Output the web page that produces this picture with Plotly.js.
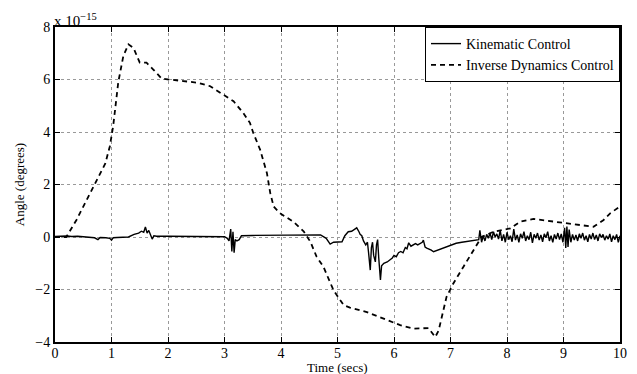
<!DOCTYPE html>
<html>
<head>
<meta charset="utf-8">
<script src="https://cdn.plot.ly/plotly-3.0.1.min.js"></script>
<style>html,body{margin:0;padding:0;background:#fff;}#chart{width:637px;height:374px;}</style>
</head>
<body>
<div id="chart"></div>
<script>
// Inverse Dynamics Control (dashed), angle in units of 1e-15 degrees
const idTime = [0, 0.2, 0.38, 0.71, 0.89, 0.97, 1.03, 1.12, 1.21, 1.30, 1.39, 1.50, 1.62, 1.74, 1.89, 2.27, 2.51, 2.74, 2.98, 3.16, 3.33, 3.45, 3.51, 3.63, 3.75, 3.81, 3.87, 3.98, 4.22, 4.40, 4.52, 4.63, 4.75, 4.93, 5.11, 5.22, 5.52, 5.81, 6.11, 6.35, 6.61, 6.73, 6.79, 6.93, 7.05, 7.23, 7.41, 7.55, 7.76, 7.94, 8.06, 8.23, 8.47, 8.71, 9.06, 9.36, 9.53, 9.71, 9.83, 10.0];
const idAngle = [0, 0, 0.65, 2.05, 2.8, 3.45, 4.23, 5.9, 6.9, 7.34, 7.2, 6.64, 6.64, 6.38, 6.03, 5.94, 5.88, 5.75, 5.43, 5.17, 4.73, 4.35, 3.96, 3.33, 2.44, 1.67, 1.16, 0.91, 0.58, 0.22, -0.18, -0.75, -1.13, -2.03, -2.6, -2.69, -2.86, -3.11, -3.36, -3.49, -3.47, -3.81, -3.56, -2.28, -1.77, -1.13, -0.5, 0.0, 0.2, 0.29, 0.33, 0.58, 0.69, 0.62, 0.52, 0.46, 0.39, 0.65, 0.91, 1.16];

// Kinematic Control (solid)
const kinTime = [0, 0.1, 0.2, 0.3, 0.4, 0.5, 0.6, 0.7, 0.76, 0.8, 0.9, 0.97, 1.0, 1.03, 1.1, 1.2, 1.3, 1.4, 1.48, 1.53, 1.57, 1.6, 1.63, 1.66, 1.69, 1.72, 1.75, 1.8, 2.0, 2.3, 2.6, 2.9, 3.0, 3.05, 3.08, 3.11, 3.13, 3.15, 3.17, 3.19, 3.22, 3.26, 3.3, 3.5, 3.8, 4.1, 4.4, 4.6, 4.7, 4.8, 4.87, 4.93, 5.0, 5.08, 5.13, 5.19, 5.25, 5.3, 5.34, 5.38, 5.4, 5.43, 5.46, 5.5, 5.53, 5.55, 5.58, 5.6, 5.62, 5.64, 5.67, 5.69, 5.71, 5.73, 5.76, 5.78, 5.82, 5.88, 5.93, 5.97, 6.0, 6.04, 6.08, 6.12, 6.16, 6.2, 6.23, 6.26, 6.3, 6.34, 6.38, 6.42, 6.46, 6.5, 6.52, 6.55, 6.58, 6.62, 6.66, 6.7, 6.8, 6.9, 7.0, 7.1, 7.2, 7.3, 7.4, 7.5, 7.52, 7.55, 7.58, 7.61, 7.64, 7.67, 7.7, 7.73, 7.76, 7.79, 7.82, 7.85, 7.88, 7.91, 7.94, 7.97, 8.0, 8.03, 8.06, 8.09, 8.12, 8.15, 8.18, 8.21, 8.24, 8.27, 8.3, 8.33, 8.36, 8.39, 8.42, 8.45, 8.48, 8.51, 8.54, 8.57, 8.6, 8.63, 8.66, 8.69, 8.72, 8.75, 8.78, 8.81, 8.84, 8.87, 8.9, 8.93, 8.96, 8.99, 9.02, 9.04, 9.06, 9.08, 9.1, 9.13, 9.16, 9.19, 9.22, 9.25, 9.28, 9.31, 9.34, 9.37, 9.4, 9.43, 9.46, 9.49, 9.52, 9.55, 9.58, 9.61, 9.64, 9.67, 9.7, 9.73, 9.76, 9.79, 9.82, 9.85, 9.88, 9.91, 9.94, 9.97, 10.0];
const kinAngle = [0.02, 0.03, 0.04, 0.02, 0.03, 0.01, 0.0, -0.03, -0.1, -0.02, -0.03, -0.05, -0.12, -0.03, -0.02, -0.01, 0.0, 0.1, 0.15, 0.22, 0.18, 0.38, 0.15, 0.25, 0.1, -0.08, 0.05, 0.03, 0.03, 0.02, 0.01, 0.0, 0.01, -0.05, -0.15, 0.3, -0.55, 0.2, -0.6, -0.1, -0.15, -0.1, 0.05, 0.06, 0.07, 0.08, 0.09, 0.1, 0.08, -0.05, -0.27, -0.2, -0.2, -0.18, 0.05, 0.2, 0.22, 0.3, 0.35, 0.2, 0.1, 0.05, -0.15, -0.3, -0.2, -0.6, -1.26, -0.4, -0.2, -0.7, -0.95, -0.3, -0.1, -0.8, -1.64, -1.1, -1.0, -0.95, -0.85, -0.8, -0.7, -0.75, -0.6, -0.55, -0.6, -0.4, -0.45, -0.22, -0.35, -0.3, -0.25, -0.3, -0.25, -0.2, -0.12, -0.38, -0.42, -0.45, -0.5, -0.56, -0.48, -0.37, -0.3, -0.24, -0.2, -0.17, -0.14, -0.1, 0.25, -0.2, 0.05, -0.15, 0.1, -0.05, 0.15, -0.1, 0.2, 0.0, 0.12, -0.08, 0.25, -0.15, 0.1, -0.2, 0.18, -0.1, 0.05, -0.18, 0.3, -0.12, 0.08, -0.2, 0.12, -0.05, 0.2, -0.15, 0.05, -0.1, 0.18, -0.22, 0.1, -0.05, 0.15, -0.12, 0.08, -0.18, 0.12, -0.03, 0.2, -0.15, 0.05, -0.2, 0.1, -0.08, 0.15, -0.1, 0.12, -0.2, 0.35, -0.42, 0.4, -0.38, 0.28, -0.2, 0.1, -0.12, 0.08, -0.15, 0.12, -0.05, 0.15, -0.12, 0.05, -0.18, 0.1, -0.08, 0.15, -0.1, 0.08, -0.15, 0.12, -0.02, 0.1, -0.12, 0.05, -0.08, 0.12, -0.18, 0.05, -0.1, 0.1, -0.2, 0.05];

const seriesNames = ["Kinematic Control", "Inverse Dynamics Control"];
const xTicks = [0, 1, 2, 3, 4, 5, 6, 7, 8, 9, 10];
const yTicks = [-4, -2, 0, 2, 4, 6, 8];

const font = "'Liberation Serif', 'Times New Roman', Times, serif";

const traces = [
  {x: kinTime, y: kinAngle, name: seriesNames[0], mode: "lines",
   line: {color: "#000", width: 1.4}},
  {x: idTime, y: idAngle, name: seriesNames[1], mode: "lines",
   line: {color: "#000", width: 1.8, dash: "5px,4px"}}
];

const axisCommon = {
  showline: true, linecolor: "#000", linewidth: 2, mirror: "ticks",
  ticks: "inside", ticklen: 5, tickwidth: 1, tickcolor: "#000",
  showgrid: true, gridcolor: "#999", gridwidth: 1, griddash: "dot",
  zeroline: false,
  tickfont: {family: font, size: 14, color: "#000"}
};

const layout = {
  width: 637, height: 374,
  margin: {l: 55, r: 17, t: 27, b: 32},
  paper_bgcolor: "#fff", plot_bgcolor: "#fff",
  font: {family: font, color: "#000"},
  showlegend: true,
  legend: {x: 1, xanchor: "right", y: 1, yanchor: "top",
           bordercolor: "#000", borderwidth: 1, bgcolor: "#fff",
           font: {family: font, size: 14, color: "#000"},
           tracegroupgap: 0, itemwidth: 30},
  xaxis: Object.assign({}, axisCommon, {
    range: [0, 10], tickvals: xTicks, ticklabelstandoff: -3
  }),
  yaxis: Object.assign({}, axisCommon, {
    range: [-4, 8], tickvals: yTicks,
    title: {text: "Angle (degrees)", font: {family: font, size: 13, color: "#000"}, standoff: 8}
  }),
  annotations: [{
    xref: "paper", yref: "paper", x: 0, y: 1, xanchor: "left", yanchor: "bottom",
    text: "x 10<sup>−15</sup>", showarrow: false,
    font: {family: font, size: 15, color: "#000"}, xshift: -3, yshift: -4
  }, {
    xref: "paper", yref: "paper", x: 0.5, y: 0, xanchor: "center", yanchor: "top",
    text: "Time (secs)", showarrow: false, borderpad: 0,
    font: {family: font, size: 13, color: "#000"}, yshift: -17
  }]
};

Plotly.newPlot("chart", traces, layout, {staticPlot: true, displayModeBar: false});
</script>
</body>
</html>
